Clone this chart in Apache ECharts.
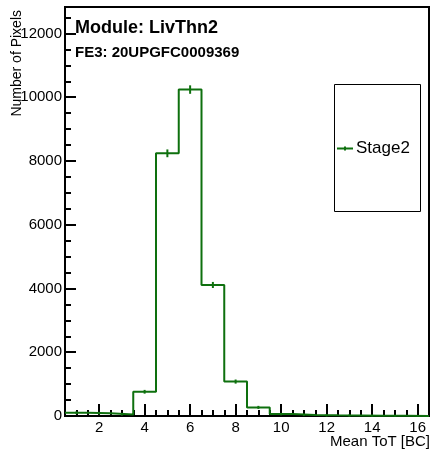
<!DOCTYPE html>
<html>
<head>
<meta charset="utf-8">
<script src="https://cdn.jsdelivr.net/npm/echarts@6/dist/echarts.min.js"></script>
<style>
html,body{margin:0;padding:0;background:#fff;}
#chart{width:434px;height:456px;}
</style>
</head>
<body>
<div id="chart"></div>
<script>
// ---- data ----
const binCenters = [1, 2, 3, 4, 5, 6, 7, 8, 9, 10, 11, 12, 13, 14, 15, 16];
const stage2Counts = [100, 90, 50, 760, 8240, 10240, 4110, 1080, 270, 60, 35, 20, 15, 10, 5, 0];
const xMajorTicks = [2, 4, 6, 8, 10, 12, 14, 16];
const yMajorTicks = [0, 2000, 4000, 6000, 8000, 10000, 12000];
const seriesName = 'Stage2';
const titleText = 'Module: LivThn2';
const subTitleText = 'FE3: 20UPGFC0009369';
const xAxisTitle = 'Mean ToT [BC]';
const yAxisTitle = 'Number of Pixels';

// ---- derived ----
const binWidth = 1;
const xMin = binCenters[0] - binWidth / 2;
const xMax = binCenters[binCenters.length - 1] + binWidth / 2;
const yMax = 12830;
const xMinorTicks = [];
for (let v = xMin + 0.5; v < xMax; v += 0.5) { if (xMajorTicks.indexOf(v) < 0) xMinorTicks.push(v); }
const yMinorTicks = [];
for (let v = 500; v < yMax; v += 500) { if (yMajorTicks.indexOf(v) < 0) yMinorTicks.push(v); }

const stepData = binCenters.map((c, i) => [c - binWidth / 2, stage2Counts[i]]);
stepData.push([xMax, stage2Counts[stage2Counts.length - 1]]);
const errData = binCenters.map((c, i) => [c, stage2Counts[i]]);

const GREEN = '#0e700e';
const FONT = 'Liberation Sans, Arial, sans-serif';
const plain = v => String(v);

const chart = echarts.init(document.getElementById('chart'), null, {renderer: 'canvas'});
const baseX = {
  type: 'value', min: xMin, max: xMax, position: 'bottom',
  splitLine: {show: false}
};
const baseY = {
  type: 'value', min: 0, max: yMax, position: 'left',
  splitLine: {show: false}
};
chart.setOption({
  animation: false,
  backgroundColor: '#fff',
  grid: {left: 65, right: 5, top: 7, bottom: 40, show: true, borderColor: '#000', borderWidth: 2, backgroundColor: 'transparent'},
  title: [
    {text: titleText, left: 75, top: 19, padding: 0,
     textStyle: {fontFamily: FONT, fontSize: 18, fontWeight: 'bold', color: '#000'}},
    {text: subTitleText, left: 75, top: 45, padding: 0,
     textStyle: {fontFamily: FONT, fontSize: 15, fontWeight: 'bold', color: '#000'}}
  ],
  legend: {
    left: 337, top: 140, padding: 0, itemWidth: 16, itemHeight: 4, itemGap: 0,
    data: [{name: seriesName, icon: 'path://M0,1 L16,1 L16,3 L0,3 Z M7,0 L9,0 L9,4 L7,4 Z'}],
    textStyle: {fontFamily: FONT, fontSize: 17, color: '#000', padding: [0, 0, 0, -2]}
  },
  xAxis: [
    Object.assign({}, baseX, {
      axisLine: {show: true, onZero: false, lineStyle: {color: '#000', width: 2}},
      axisTick: {show: true, inside: true, length: 12, customValues: xMajorTicks, lineStyle: {color: '#000', width: 2}},
      axisLabel: {show: true, customValues: xMajorTicks, formatter: plain, margin: 4, fontFamily: FONT, fontSize: 15, color: '#000'}
    }),
    Object.assign({}, baseX, {
      axisLine: {show: false},
      axisTick: {show: true, inside: true, length: 6, customValues: xMinorTicks, lineStyle: {color: '#000', width: 2}},
      axisLabel: {show: false}
    })
  ],
  yAxis: [
    Object.assign({}, baseY, {
      axisLine: {show: true, onZero: false, lineStyle: {color: '#000', width: 2}},
      axisTick: {show: true, inside: true, length: 11, customValues: yMajorTicks, lineStyle: {color: '#000', width: 2}},
      axisLabel: {show: true, customValues: yMajorTicks, formatter: plain, margin: 3, fontFamily: FONT, fontSize: 15, color: '#000'}
    }),
    Object.assign({}, baseY, {
      axisLine: {show: false},
      axisTick: {show: true, inside: true, length: 6, customValues: yMinorTicks, lineStyle: {color: '#000', width: 2}},
      axisLabel: {show: false}
    })
  ],
  graphic: [
    {type: 'rect', shape: {x: 334.5, y: 84.5, width: 86, height: 127}, style: {fill: '#fff', stroke: '#000', lineWidth: 1}, z: 0},
    {type: 'text', x: 17, y: 10, rotation: Math.PI / 2,
     style: {text: yAxisTitle, fontFamily: FONT, fontSize: 14, fill: '#000', align: 'right', verticalAlign: 'middle'}},
    {type: 'text', x: 430, y: 442,
     style: {text: xAxisTitle, fontFamily: FONT, fontSize: 15, fill: '#000', align: 'right', verticalAlign: 'middle'}}
  ],
  series: [
    {name: seriesName, type: 'line', step: 'end', data: stepData, xAxisIndex: 0, yAxisIndex: 0,
     symbol: 'none', color: GREEN, lineStyle: {color: GREEN, width: 2}, z: 3},
    {name: 'errors', type: 'custom', data: errData, xAxisIndex: 0, yAxisIndex: 0, z: 4,
     renderItem: function (params, api) {
       const x = api.value(0), y = api.value(1), e = Math.sqrt(y);
       const p1 = api.coord([x, y - e]);
       const p2 = api.coord([x, y + e]);
       return {type: 'group', children: [
         {type: 'line', shape: {x1: p1[0], y1: p1[1] + 1, x2: p2[0], y2: p2[1] - 1}, style: {stroke: GREEN, lineWidth: 2}}
       ]};
     }}
  ]
});
</script>
</body>
</html>
